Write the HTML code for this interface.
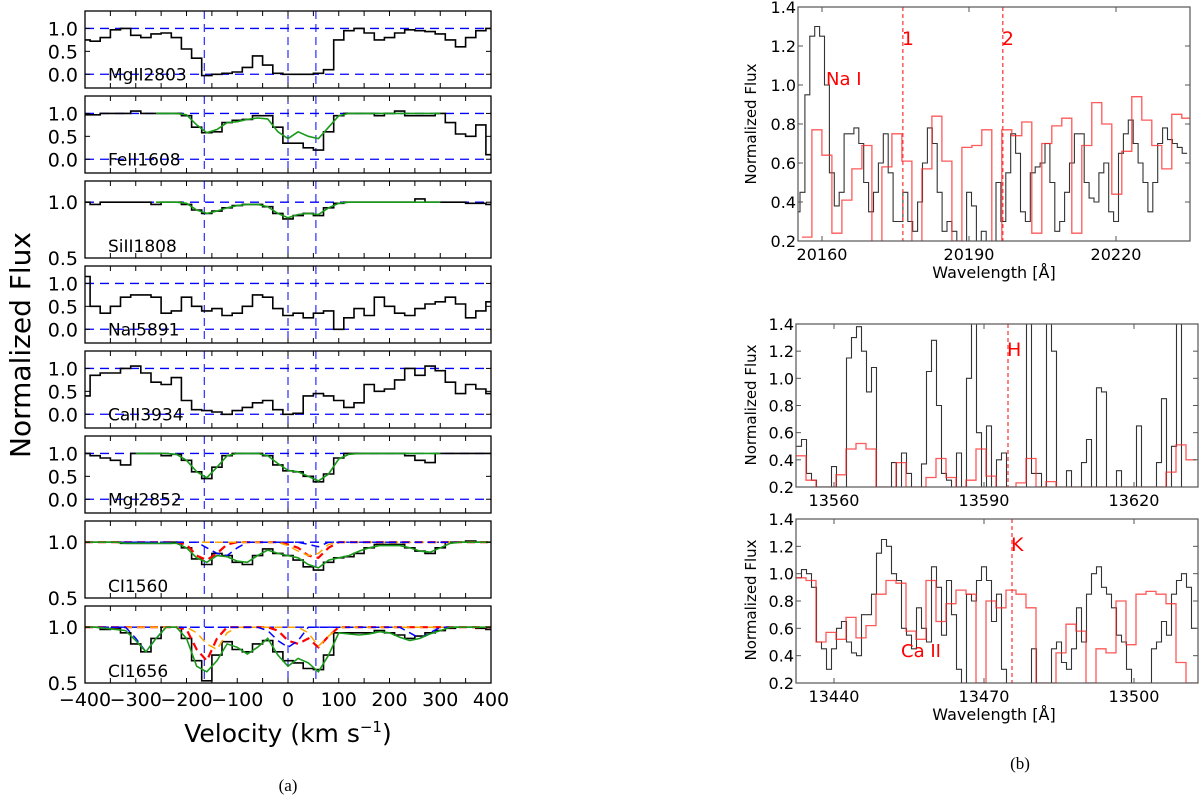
<!DOCTYPE html>
<html><head><meta charset="utf-8"><style>
body{margin:0;background:#fff;}
svg{display:block;}
text{font-family:"DejaVu Sans","Liberation Sans",sans-serif;}
</style></head><body>
<svg id="fig" width="1200" height="803" viewBox="0 0 1200 803" xmlns="http://www.w3.org/2000/svg"></svg>
<script>
// ===== Panel (a) data: velocity grid (km/s) =====
const vel = [-400,-380,-360,-340,-320,-300,-280,-260,-240,-220,-200,-180,-160,-140,-120,-100,-80,-60,-40,-20,0,20,40,60,80,100,120,140,160,180,200,220,240,260,280,300,320,340,360,380,400];
const mg2803 = [.75,.72,.8,.97,1,.85,.8,.88,.9,.8,.55,.35,-.03,0,.02,.05,.15,.4,.2,.02,0,0,0,.02,.1,.75,.95,1,.9,.75,.8,.9,.97,.95,.93,.88,.75,.6,.8,.95,1];
const fe1608 = [.97,.97,1,1,1,1.05,1,1,1,1,.95,.7,.58,.6,.8,.85,.87,.95,.95,.7,.35,.35,.25,.2,.6,.95,1,1,1,.95,1,1.05,.95,.95,.95,1,.8,.55,.5,.75,.1];
const fe1608Fit = [null,null,null,null,null,null,null,1,1,1,.97,.75,.58,.65,.8,.82,.87,.9,.88,.6,.45,.6,.5,.45,.7,.95,1,1,1,1,1,1,1,1,1,1,null,null,null,null,null];
const si1808 = [1,.98,1,1,1,1,1,.98,1,1,.98,.93,.9,.92,.95,.97,.98,.98,.96,.9,.85,.88,.9,.88,.95,.99,1,1,1,1,1,1,1,1.03,1,1,1,1,.99,.99,.98];
const si1808Fit = [null,null,null,null,null,null,null,1,1,1,.99,.93,.9,.92,.95,.97,.98,.98,.96,.9,.86,.89,.9,.89,.95,.99,1,1,1,1,1,1,1,1,1,1,null,null,null,null,null];
const na5891 = [1.15,.5,.35,.5,.7,.75,.75,.7,.35,.4,.7,.5,.4,.45,.3,.35,.5,.75,.7,.45,.3,.35,.25,.35,.4,0,.25,.45,.3,.7,.5,.35,.3,.45,.55,.6,.7,.55,.25,.4,.6];
const ca3934 = [.4,.85,.9,.9,1,1.05,.9,.7,.65,.8,.3,.1,.08,.05,0,.08,.15,.25,.3,.1,0,.02,.4,.45,.4,.3,.15,.25,.65,.5,.55,.75,1,.85,1.05,.95,.7,.45,.65,.55,.45];
const mg2852 = [1,.95,.9,.85,.75,1,1,1,.95,.98,.85,.6,.45,.7,.95,1,1,1,.95,.75,.62,.6,.5,.38,.55,.9,1,1,1,1,1,1,.95,.85,.8,1,1,1,1,1,1];
const mg2852Fit = [null,null,null,null,null,1,1,1,1,.98,.85,.6,.47,.7,.95,1,1,1,.95,.78,.63,.6,.5,.4,.55,.88,.98,1,1,1,1,1,1,1,1,1,null,null,null,null,null];
const ci1560 = [1,1,1,1,.99,.99,.99,.99,.99,1,.95,.85,.8,.9,.88,.82,.8,.88,.94,.9,.88,.84,.78,.75,.82,.86,.87,.9,.95,.98,.98,.98,.95,.92,.9,.95,1,1,1.01,1,1];
const ci1560Fit = [1,1,1,1,.99,.99,.99,.99,.99,.99,.95,.86,.82,.88,.87,.83,.82,.88,.93,.9,.88,.86,.8,.77,.84,.86,.88,.92,.95,.97,.97,.97,.95,.92,.91,.95,.99,1,1,1,1];
const ci1560Red = [1,1,1,1,1,1,1,1,1,1,.98,.88,.84,.9,.98,1,1,1,1,1,.98,.95,.88,.86,.95,1,1,1,1,1,1,1,1,1,1,1,1,1,1,1,1];
const ci1560Orange = [1,1,1,1,1,1,1,1,1,1,1,1,1,1,1,1,1,1,1,1,.97,.92,.88,.9,.98,1,1,1,1,1,1,1,1,1,1,1,1,1,1,1,1];
const ci1560Blue = [1,1,1,1,1,1,1,1,1,1,1,1,.95,.9,.88,.95,1,1,1,1,1,1,.98,.96,1,1,1,1,1,1,1,1,1,1,1,1,1,1,1,1,1];
const ci1656 = [1,1,.98,.99,.95,.85,.78,.9,1,1,.9,.7,.52,.75,.87,.8,.78,.85,.88,.78,.7,.68,.63,.62,.75,.95,.95,.95,.95,.97,.95,.93,.9,.92,.95,.97,.99,1,1,.99,.98];
const ci1656Fit = [1,1,.99,.98,.97,.88,.78,.9,1,1,.9,.65,.6,.7,.85,.82,.76,.82,.9,.75,.65,.72,.68,.6,.75,.95,.94,.93,.94,.96,.95,.91,.88,.9,.94,.97,1,1,1,1,1];
const ci1656Red = [1,1,1,1,1,1,1,1,1,1,.98,.8,.7,.9,1,1,1,1,1,.97,.88,.85,.9,.82,.92,1,1,1,1,1,1,1,1,1,1,1,1,1,1,1,1];
const ci1656Orange = [1,1,1,1,1,1,1,1,1,1,1,.95,.85,.8,.95,1,1,1,1,1,1,1,.95,.83,.92,1,1,1,1,1,1,1,1,1,1,1,1,1,1,1,1];
const ci1656Blue = [1,1,1,1,1,.9,.78,.9,1,1,1,1,1,1,1,1,1,1,.97,.88,.82,.88,1,1,1,1,1,1,1,1,1,1,.95,.9,.95,1,1,1,1,1,1];
const panelNames = ["MgII2803","FeII1608","SiII1808","NaI5891","CaII3934","MgI2852","CI1560","CI1656"];
const compVel = [-165,0,55];
const velTicks = [-400,-300,-200,-100,0,100,200,300,400];

// ===== Panel (b) data =====
const naStart = 20155, naBlack = [.35,.45,.95,1.25,1.3,1.25,1.0,.55,.38,.45,.75,.75,.78,.7,.5,.35,.45,.6,.75,.55,.3,.3,.45,.3,.25,.4,.6,.78,.7,.45,.25,.3,.25,.2,.2,.45,.38,.15,.25,.15,.15,.5,.3,.55,.75,.65,.35,.3,.55,.58,.6,.7,.5,.25,.3,.45,.6,.75,.75,.5,.42,.4,.55,.6,.35,.3,.65,.75,.82,.7,.6,.5,.35,.5,.7,.78,.72,.7,.68,.65];
const naRedStart = 20155.9, naRed = [.22,.77,.64,.24,.41,.57,.69,0,.58,.75,.61,.1,.57,.84,.61,.2,.68,.69,.77,.1,.77,.74,.81,.24,.7,.79,.83,.24,.69,.91,.8,.44,.66,.94,.82,.69,.57,.85,.83];
const hStart = 13553, hBlack = [.5,.55,.3,.25,.2,.2,.2,.35,.2,.2,1.15,1.3,1.38,1.2,.9,1.08,.2,.2,.2,.38,.2,.45,.3,.2,.2,.37,1.05,1.28,.8,.3,.25,.2,.45,.2,1.0,1.5,.6,.2,.65,.2,.4,.45,.2,.2,.2,.2,1.5,.3,.3,.2,1.5,1.2,.2,.2,.32,.2,.2,.38,.55,.2,.93,.9,.2,.2,.32,.2,.2,.2,.65,.2,.2,.2,.38,.85,.2,.5,1.5,.2,.2,.2];
const hRedStart = 13552.4, hRed = [.43,.25,.2,.2,.29,.48,.52,.48,.2,.2,.38,.2,.2,.27,.41,.27,.2,.25,.48,.28,.2,.2,.23,.41,.2,.24,.2,.2,.2,.2,.2,.2,.2,.2,.2,.2,.2,.31,.51,.4];
const kStart = 13433, kBlack = [.97,1.03,1.0,.9,.5,.45,.3,.45,.6,.65,.5,.42,.4,.7,.7,.85,1.15,1.25,1.2,1.0,.95,.6,.55,.45,.75,.6,.5,1.05,.9,.55,.95,.7,.3,.2,.85,.8,.95,1.05,.95,.65,.85,.3,.1,.1,.1,.1,.2,.45,.2,.1,.1,.45,.5,.35,.3,.45,.75,.5,.85,1.0,1.05,.9,.85,.75,.55,.5,.3,.2,.1,.1,.1,.45,.5,.65,.55,.85,.95,1.0,.9,.6];
const kRedStart = 13432.4, kRed = [.97,.95,.5,.57,.52,.68,.53,.62,.85,.95,.93,.58,.52,.95,.65,.78,.88,.85,.2,.8,.75,.88,.85,.75,.2,.2,.42,.63,.58,.2,.45,.42,.8,.48,.85,.87,.85,.78,.35,.2,.2];

const NS="http://www.w3.org/2000/svg";
const svg=document.getElementById('fig');
function mk(tag,attrs,parent){const e=document.createElementNS(NS,tag);for(const k in attrs)e.setAttribute(k,attrs[k]);(parent||svg).appendChild(e);return e;}
function txt(s,attrs,parent){const e=mk('text',attrs,parent);e.textContent=s;return e;}

// ---------- Panel (a) ----------
const AX0=85,AX1=491,AH=77,tops=[11,96,181,266,351,436,521,606];
const rangeA=[-0.3,1.38], rangeB=[0.5,1.19];
const panelRange=[rangeA,rangeA,rangeB,rangeA,rangeA,rangeA,rangeB,rangeB];
const blacks=[mg2803,fe1608,si1808,na5891,ca3934,mg2852,ci1560,ci1656];
const fits=[null,fe1608Fit,si1808Fit,null,null,mg2852Fit,ci1560Fit,ci1656Fit];
const comps=[null,null,null,null,null,null,[ci1560Red,ci1560Orange,ci1560Blue],[ci1656Red,ci1656Orange,ci1656Blue]];
const xv=v=>AX0+(v+400)/800*(AX1-AX0);
const defs=mk('defs',{});
tops.forEach((top,p)=>{
  const r=panelRange[p];
  const yv=f=>top+AH-(f-r[0])/(r[1]-r[0])*AH;
  const g=mk('g',{});
  
  
  const cp=mk('clipPath',{id:'cpa'+p},defs);
  mk('rect',{x:AX0,y:top,width:AX1-AX0,height:AH},cp);
  const inner=mk('g',{'clip-path':'url(#cpa'+p+')'},g);
  const hl=(r[0]<0)?[1,0]:[1];
  hl.forEach(h=>{const l=mk('line',{x1:AX0,x2:AX1,y1:yv(h),y2:yv(h),stroke:'#0000ff','stroke-width':1.3,'stroke-dasharray':'9,6'},inner);
    });
  compVel.forEach(v=>{const l=mk('line',{x1:xv(v),x2:xv(v),y1:top,y2:top+AH,stroke:'#0000ff','stroke-width':1,'stroke-dasharray':'8,5'},inner);
    });
  let d='';
  blacks[p].forEach((f,i)=>{const xa=xv(vel[i]-10),xb=xv(vel[i]+10),y=yv(f);d+=(i?'L':'M')+xa.toFixed(1)+','+y.toFixed(1)+'L'+xb.toFixed(1)+','+y.toFixed(1);});
  const sp=mk('path',{d:d,fill:'none',stroke:'#000','stroke-width':1.6},inner);
  
  if(comps[p]){const cols=['#ff0000','#ffa500','#0000ff'];const names=['component-red','component-orange','component-blue'];
    comps[p].forEach((arr,k)=>{let dd='';arr.forEach((f,i)=>{dd+=(i?'L':'M')+xv(vel[i]).toFixed(1)+','+yv(f).toFixed(1);});
      const c=mk('path',{d:dd,fill:'none',stroke:cols[k],'stroke-width':k==0?2.2:1.5,'stroke-dasharray':'8,5'},inner);
      });}
  if(fits[p]){let dd='',started=false;fits[p].forEach((f,i)=>{if(f===null){started=false;return;}dd+=(started?'L':'M')+xv(vel[i]).toFixed(1)+','+yv(f).toFixed(1);started=true;});
    const fl=mk('path',{d:dd,fill:'none',stroke:'#1a9a1a','stroke-width':1.6},inner);
    }
  mk('rect',{x:AX0,y:top,width:AX1-AX0,height:AH,fill:'none',stroke:'#000','stroke-width':1.3},g);
  for(let v=-400;v<=400;v+=50){mk('line',{x1:xv(v),x2:xv(v),y1:top,y2:top+5,stroke:'#000'},g);mk('line',{x1:xv(v),x2:xv(v),y1:top+AH,y2:top+AH-5,stroke:'#000'},g);}
  const yt=(r[0]<0)?[1.0,0.5,0.0]:[1.0,0.5];
  yt.forEach(t=>{const y=yv(t);mk('line',{x1:AX0,x2:AX0+5,y1:y,y2:y,stroke:'#000'},g);mk('line',{x1:AX1,x2:AX1-5,y1:y,y2:y,stroke:'#000'},g);
    const tl=txt(t.toFixed(1),{x:78,y:y+7,'font-size':19,'text-anchor':'end',fill:'#000'},g);
    });
  const lb=txt(panelNames[p],{x:108,y:(r[0]<0?yv(0)+6:top+AH-6),'font-size':17,fill:'#000'},g);
  
});
velTicks.forEach(v=>{const t=txt((v<0?'\u2212':'')+Math.abs(v),{x:xv(v),y:706,'font-size':19,'text-anchor':'middle'});
  });
const xt=mk('text',{x:288,y:742,'font-size':25,'text-anchor':'middle'});


xt.innerHTML='Velocity (km s<tspan dy="-10" font-size="15">\u22121</tspan><tspan dy="10">)</tspan>';
const yl=txt('Normalized Flux',{x:0,y:0,'font-size':28,'text-anchor':'middle',transform:'translate(30,345) rotate(-90)'});

const la=txt('(a)',{x:288,y:791,'font-size':17,'text-anchor':'middle',style:'font-family:"Liberation Serif",serif'});


// ---------- Panel (b) ----------
const rpanels=[
 {name:'na-i-panel',x0:798,x1:1190,y0:7,y1:241,l0:20155.1,l1:20235.1,ticks:[20160,20190,20220],black:naBlack,bs:naStart,bstep:1,red:naRed,rs:naRedStart,rstep:2.04,lines:[20176.5,20196.9],lineLabels:['1','2'],ylab:124,xlab:true},
 {name:'ca-ii-h-panel',x0:796,x1:1198,y0:324,y1:487,l0:13552.4,l1:13632.8,ticks:[13560,13590,13620],black:hBlack,bs:hStart,bstep:1,red:hRed,rs:hRedStart,rstep:2,lines:[13594.8],lineLabels:['H'],ylab:405,xlab:false},
 {name:'ca-ii-k-panel',x0:796,x1:1198,y0:519,y1:683,l0:13432.4,l1:13512.8,ticks:[13440,13470,13500],black:kBlack,bs:kStart,bstep:1,red:kRed,rs:kRedStart,rstep:2,lines:[13475.6],lineLabels:['K'],ylab:600,xlab:true}
];
rpanels.forEach((P,pi)=>{
  const xl=l=>P.x0+(l-P.l0)/(P.l1-P.l0)*(P.x1-P.x0);
  const yf=f=>P.y1-(f-0.2)/1.2*(P.y1-P.y0);
  const g=mk('g',{});
  const cp=mk('clipPath',{id:'cpb'+pi},defs);mk('rect',{x:P.x0,y:P.y0,width:P.x1-P.x0,height:P.y1-P.y0},cp);
  const inner=mk('g',{'clip-path':'url(#cpb'+pi+')'},g);
  let d='';P.black.forEach((f,i)=>{const l=P.bs+i*P.bstep;d+=(i?'L':'M')+xl(l-P.bstep/2).toFixed(1)+','+yf(f).toFixed(1)+'L'+xl(l+P.bstep/2).toFixed(1)+','+yf(f).toFixed(1);});
  const bp=mk('path',{d:d,fill:'none',stroke:'#333','stroke-width':1.1},inner);
  let dr='';P.red.forEach((f,i)=>{const l=P.rs+i*P.rstep;dr+=(i?'L':'M')+xl(l).toFixed(1)+','+yf(f).toFixed(1)+'L'+xl(l+P.rstep).toFixed(1)+','+yf(f).toFixed(1);});
  const rp=mk('path',{d:dr,fill:'none',stroke:'#ff3030','stroke-width':1.3,'stroke-opacity':0.8},inner);
  P.lines.forEach((l,k)=>{const ln=mk('line',{x1:xl(l),x2:xl(l),y1:P.y0,y2:P.y1,stroke:'#ff3030','stroke-width':1.2,'stroke-dasharray':'4,3'},g);
    
    const lt=txt(P.lineLabels[k],{x:xl(l)-1,y:P.y0+(pi==0?38:32),'font-size':19,fill:'#ff0000'},g);
    });
  mk('rect',{x:P.x0,y:P.y0,width:P.x1-P.x0,height:P.y1-P.y0,fill:'none',stroke:'#555','stroke-width':1.2},g);
  for(let f=0.2;f<1.41;f+=0.2){const y=yf(f);mk('line',{x1:P.x0,x2:P.x0+5,y1:y,y2:y,stroke:'#555'},g);mk('line',{x1:P.x1,x2:P.x1-5,y1:y,y2:y,stroke:'#555'},g);
    const tl=txt(f.toFixed(1),{x:P.x0-2,y:y+6,'font-size':16,'text-anchor':'end'},g);}
  P.ticks.forEach(t=>{const x=xl(t);mk('line',{x1:x,x2:x,y1:P.y1,y2:P.y1-5,stroke:'#555'},g);mk('line',{x1:x,x2:x,y1:P.y0,y2:P.y0+5,stroke:'#555'},g);
    const tl=txt(String(t),{x:x,y:P.y1+19,'font-size':16,'text-anchor':'middle'},g);});
  const ylb=txt('Normalized Flux',{x:0,y:0,'font-size':15,'text-anchor':'middle',transform:'translate(756,'+P.ylab+') rotate(-90)'},g);
  
  if(P.xlab){const xt2=txt('Wavelength [\u00c5]',{x:994,y:P.y1+37,'font-size':16,'text-anchor':'middle'},g);}
});
const na=txt('Na I',{x:826,y:85,'font-size':18,fill:'#ff0000'});
const ca=txt('Ca II',{x:901,y:657,'font-size':18,fill:'#ff0000'});
const lb2=txt('(b)',{x:1020,y:769,'font-size':17,'text-anchor':'middle',style:'font-family:"Liberation Serif",serif'});

</script>
</body></html>
